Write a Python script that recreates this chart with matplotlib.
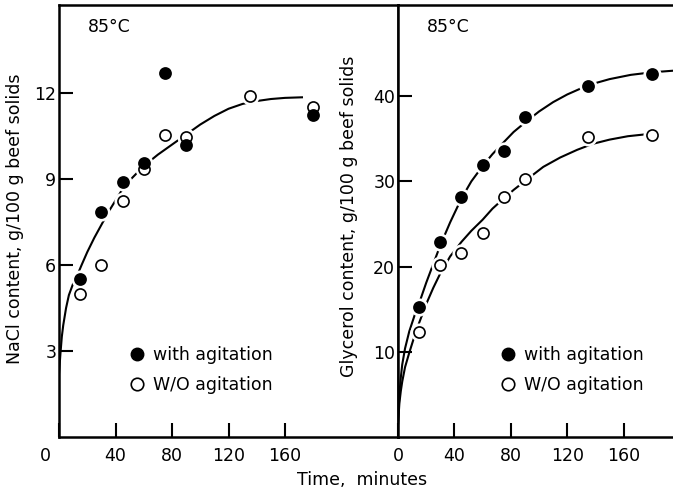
import numpy as np
import matplotlib
matplotlib.use("Agg")
import matplotlib.pyplot as plt
from matplotlib.lines import Line2D
from matplotlib.transforms import ScaledTranslation

plt.rcParams["font.family"] = ["DejaVu Sans"]

# NaCl uptake (left panel)
nacl_t_with = [15, 30, 45, 60, 75, 90, 180]
nacl_with = [5.5, 7.85, 8.9, 9.55, 12.7, 10.2, 11.25]
nacl_t_wo = [15, 30, 45, 60, 75, 90, 135, 180]
nacl_wo = [5.0, 6.0, 8.25, 9.35, 10.55, 10.45, 11.9, 11.5]
nacl_curve_t = [0, 1, 2, 3, 5, 7, 10, 13, 16, 20, 25, 30, 35, 40, 45, 50, 55, 60,
                70, 80, 90, 100, 110, 120, 130, 140, 150, 160, 172]
nacl_curve = [2.2, 2.9, 3.5, 3.9, 4.5, 4.95, 5.35, 5.65, 6.0, 6.45, 6.95, 7.4, 7.85,
              8.25, 8.65, 8.95, 9.2, 9.45, 9.85, 10.2, 10.55, 10.9, 11.2, 11.45,
              11.62, 11.72, 11.79, 11.83, 11.85]

# glycerol uptake (right panel)
glyc_t = [15, 30, 45, 60, 75, 90, 135, 180]
glyc_with = [15.3, 22.9, 28.2, 31.9, 33.6, 37.5, 41.2, 42.6]
glyc_wo = [12.3, 20.2, 21.6, 24.0, 28.2, 30.3, 35.2, 35.4]
glyc_with_curve_t = [0, 1, 2, 3, 5, 8, 12, 15, 20, 25, 30, 37, 45, 52, 60, 67, 75,
                     82, 90, 100, 110, 120, 135, 150, 165, 180, 196]
glyc_with_curve = [1.5, 5.0, 7.0, 8.5, 10.4, 12.4, 14.4, 15.7, 18.1, 20.3, 22.5, 25.2,
                   28.0, 30.0, 31.8, 33.2, 34.6, 35.8, 36.9, 38.2, 39.3, 40.2, 41.3,
                   42.0, 42.5, 42.8, 43.0]
glyc_wo_curve_t = [0, 1, 2, 3, 5, 8, 12, 15, 20, 25, 30, 37, 45, 52, 60, 67, 75, 82,
                   92, 103, 115, 127, 138, 150, 163, 180]
glyc_wo_curve = [1.5, 4.0, 5.4, 6.5, 8.2, 9.9, 12.0, 13.4, 15.6, 17.5, 19.2, 21.2,
                 22.9, 24.2, 25.5, 26.8, 28.0, 29.0, 30.3, 31.7, 32.8, 33.7, 34.4,
                 34.9, 35.3, 35.6]

x_ticks = [0, 40, 80, 120, 160]
nacl_ticks = [3, 6, 9, 12]
glyc_ticks = [10, 20, 30, 40]

FS = 12.5
MS = 8
LW_SP = 1.8

fig = plt.figure(figsize=(6.73, 4.92), dpi=100)
W, H = 673, 492
axL = fig.add_axes([59 / W, 1 - 437 / H, (398 - 59) / W, 432 / H])
axR = fig.add_axes([398 / W, 1 - 437 / H, (673 - 398) / W, 432 / H])


def draw_points(ax, t, y, filled):
    # white halo under each marker so the curve breaks around it
    ax.plot(t, y, "o", ms=MS + 5, color="white", mec="none", zorder=3)
    ax.plot(t, y, "o", ms=MS, mfc="black" if filled else "white", mec="black",
            mew=1.2, zorder=4)


def style(ax, xmax, ymax, yticks, ylabel, lab_x, lab_y, leg_x):
    ax.set_xlim(0, xmax)
    ax.set_ylim(0, ymax)
    ax.set_xticks(x_ticks)
    ax.set_yticks(yticks)
    ax.tick_params(direction="in", length=10, width=1.5, labelsize=FS)
    ax.tick_params(axis="x", pad=7)
    ax.tick_params(axis="y", pad=2)
    for s in ax.spines.values():
        s.set_linewidth(LW_SP)
    ax.set_ylabel(ylabel, fontsize=FS, va="center")
    ax.yaxis.set_label_coords(lab_x, lab_y)
    ax.text(29 / (ax.get_position().width * W), 0.95, "85°C", transform=ax.transAxes,
            fontsize=FS, ha="left", va="center")
    handles = [
        Line2D([], [], ls="none", marker="o", ms=MS + 1, mfc="black", mec="black"),
        Line2D([], [], ls="none", marker="o", ms=MS + 1, mfc="white", mec="black", mew=1.2),
    ]
    ax.legend(handles, ["with agitation", "W/O agitation"], loc="upper left",
              bbox_to_anchor=(leg_x, 0.21), frameon=False, fontsize=FS,
              borderpad=0, borderaxespad=0, handlelength=1.0, handletextpad=0.45,
              labelspacing=0.7)


# left panel
axL.plot(nacl_curve_t, nacl_curve, color="black", lw=1.5, zorder=2)
draw_points(axL, nacl_t_wo, nacl_wo, False)
draw_points(axL, nacl_t_with, nacl_with, True)
style(axL, 240, 15.07, nacl_ticks, "NaCl content, g/100 g beef solids",
      (15 - 59) / 339, (437 - 219) / 432, (128 - 59) / 339)

# right panel
axR.plot(glyc_with_curve_t, glyc_with_curve, color="black", lw=1.5, zorder=2)
axR.plot(glyc_wo_curve_t, glyc_wo_curve, color="black", lw=1.5, zorder=2)
draw_points(axR, glyc_t, glyc_wo, False)
draw_points(axR, glyc_t, glyc_with, True)
style(axR, 195, 50.7, glyc_ticks, "Glycerol content, g/100 g beef solids",
      (349 - 398) / 275, (437 - 216) / 432, (499 - 398) / 275)
axR.spines["right"].set_visible(False)

# origin "0" on the left panel sits left of the axis
lbl0 = axL.get_xticklabels()[0]
lbl0.set_transform(lbl0.get_transform() + ScaledTranslation(-14 / 100, 0, fig.dpi_scale_trans))

fig.text(362 / W, 1 - 480 / H, "Time,  minutes", fontsize=FS, ha="center", va="center")

fig.savefig("out.png", dpi=100)
